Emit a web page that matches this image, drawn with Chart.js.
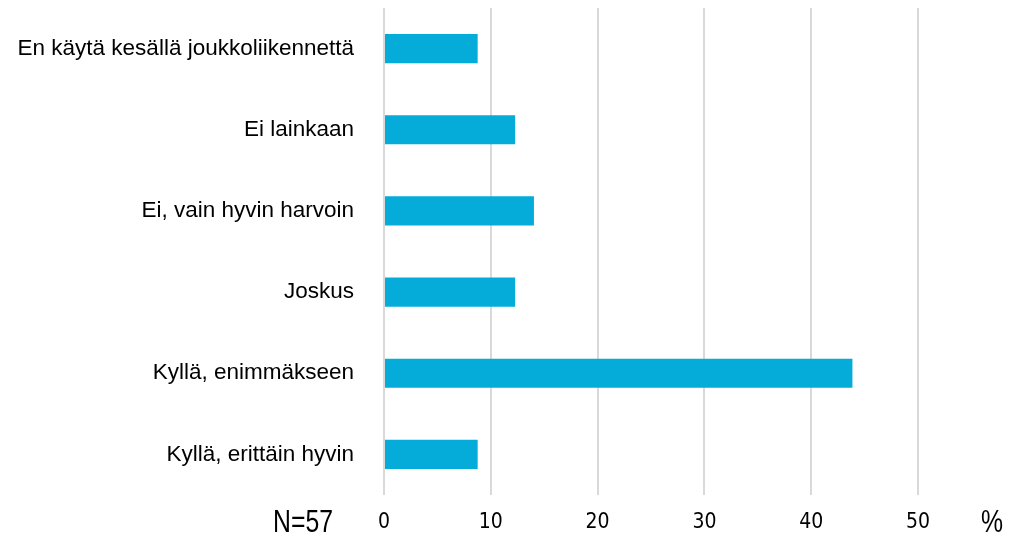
<!DOCTYPE html>
<html><head><meta charset="utf-8">
<script src="https://cdn.jsdelivr.net/npm/chart.js@4"></script>
<style>html,body{margin:0;padding:0;background:#fff}#wrap{width:1019px;height:539px;position:relative}</style>
</head><body><div id="wrap"><canvas id="c" width="1019" height="539"></canvas></div>
<script>
const categories = ["En käytä kesällä joukkoliikennettä","Ei lainkaan","Ei, vain hyvin harvoin","Joskus","Kyllä, enimmäkseen","Kyllä, erittäin hyvin"];
const values = [8.77, 12.28, 14.04, 12.28, 43.86, 8.77];
const nLabel = "N=57";
const unitLabel = "%";
const xTicks = [0,10,20,30,40,50];

const extraText = {
  id:'extraText',
  afterDraw(chart){
    const ctx = chart.ctx;
    ctx.save();
    ctx.fillStyle = '#000';
    ctx.font = '31px "Liberation Sans", sans-serif';
    ctx.textBaseline = 'alphabetic';
    ctx.save(); ctx.translate(333, 532); ctx.scale(0.8,1);
    ctx.textAlign = 'right'; ctx.fillText(nLabel, 0, 0); ctx.restore();
    ctx.save(); ctx.translate(992, 532); ctx.scale(0.8,1);
    ctx.textAlign = 'center'; ctx.fillText(unitLabel, 0, 0); ctx.restore();
    ctx.restore();
  }
};

new Chart(document.getElementById('c'), {
  type:'bar',
  data:{labels:categories, datasets:[{data:values, backgroundColor:'#05acd9', borderWidth:0, barPercentage:0.36, categoryPercentage:1}]},
  options:{
    indexAxis:'y', responsive:false, animation:false,
    layout:{padding:{top:8,right:101,left:0,bottom:0}},
    plugins:{legend:{display:false}, tooltip:{enabled:false}},
    scales:{
      x:{min:0,max:50, afterBuildTicks(s){s.ticks = xTicks.map(v=>({value:v}));},
        grid:{color:'#d9d9d9', lineWidth:2, drawTicks:false}, border:{display:false},
        ticks:{padding:15, color:'#000', font:{family:'"DejaVu Sans Condensed", "Liberation Sans Narrow", "Liberation Sans", sans-serif', size:21}},
        afterFit(s){s.height=44; s.paddingLeft=0; s.paddingRight=0;}},
      y:{grid:{display:false}, border:{display:false},
        ticks:{padding:22, color:'#000', font:{family:'"Liberation Sans", Arial, sans-serif', size:22.5}},
        afterFit(s){s.width=384; s.paddingTop=0; s.paddingBottom=0;}}
    }
  },
  plugins:[extraText]
});
</script></body></html>
